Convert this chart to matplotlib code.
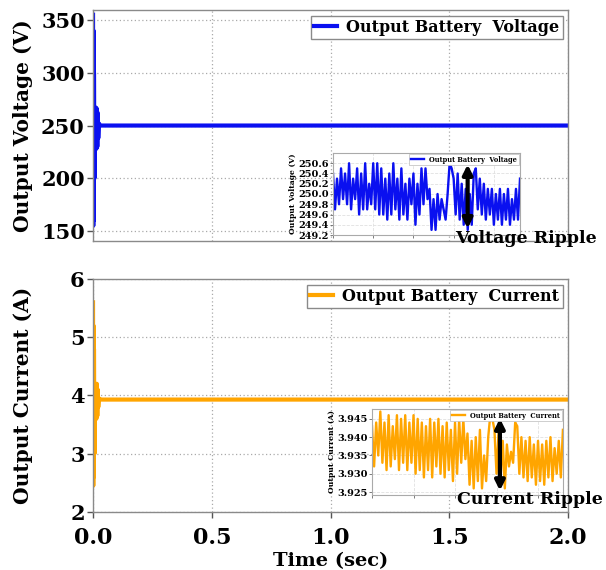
import matplotlib
matplotlib.use("Agg")
import matplotlib.pyplot as plt

plt.rcParams['font.family'] = ['DejaVu Serif']
plt.rcParams['font.weight'] = 'bold'

# ---- main traces ----
t_main = [0.0, 0.001, 0.002, 0.003, 0.004, 0.006, 0.008, 0.010, 0.012, 0.014,
          0.016, 0.018, 0.020, 0.022, 0.025, 0.030, 2.0]
v_main = [355, 155, 340, 160, 300, 200, 267, 230, 267, 228,
          266, 230, 262, 238, 252, 250, 250]
i_main = [5.6, 2.45, 5.2, 2.6, 4.8, 3.0, 4.2, 3.6, 4.2, 3.6,
          4.2, 3.65, 4.1, 3.8, 3.95, 3.93, 3.93]

# ---- zoomed ripple (inset) ----
v_ripple = [250.4, 249.7, 250.3, 249.8, 250.5, 249.9, 250.4, 249.8, 250.6, 249.7,
            250.3, 249.9, 250.5, 249.6, 250.4, 249.7, 250.6, 249.7, 250.2, 249.8,
            250.6, 249.7, 250.6, 249.6,
            250.5, 249.6, 250.3, 249.5, 250.4, 249.6, 250.6, 249.7, 250.3, 249.5,
            250.5, 249.6, 250.2, 249.5, 250.3, 249.8, 250.4, 249.4, 250.2, 249.6,
            250.5, 249.8,
            250.5, 249.9, 250.1, 249.3, 249.9, 249.3, 250.0, 249.5, 249.9, 249.7,
            249.5, 250.0, 250.6,
            250.5, 250.3, 249.6, 250.4, 249.5, 250.2, 249.4, 250.1, 249.3, 250.0,
            249.4, 250.4,
            250.5, 249.7, 250.3, 249.6, 250.2, 249.5, 250.1, 249.6, 250.1, 249.4,
            250.0, 249.5, 250.1, 249.4, 250.0, 249.5, 250.1, 249.4, 249.9, 249.5,
            250.1, 249.5, 250.3]
i_ripple = [3.943, 3.932, 3.944, 3.935, 3.947, 3.933, 3.944, 3.931, 3.946, 3.932,
            3.943, 3.934, 3.946, 3.931, 3.945, 3.933, 3.946, 3.931, 3.944, 3.933,
            3.946, 3.930, 3.945, 3.931,
            3.944, 3.929, 3.943, 3.931, 3.945, 3.929, 3.944, 3.932, 3.945, 3.930,
            3.943, 3.929, 3.944, 3.931, 3.942, 3.928, 3.944, 3.930, 3.945, 3.933,
            3.945, 3.934, 3.941, 3.927, 3.939, 3.926, 3.940, 3.928, 3.942, 3.926,
            3.935, 3.928, 3.940, 3.946,
            3.945, 3.942, 3.930, 3.941, 3.929, 3.939, 3.926, 3.938, 3.932, 3.936,
            3.933, 3.944,
            3.943, 3.930, 3.940, 3.929, 3.939, 3.928, 3.940, 3.929, 3.938, 3.927,
            3.939, 3.928, 3.938, 3.927, 3.939, 3.929, 3.940, 3.928, 3.937, 3.930,
            3.939, 3.929, 3.942]

x_ticks = [0.0, 0.5, 1.0, 1.5, 2.0]
v_ticks = [150, 200, 250, 300, 350]
i_ticks = [2, 3, 4, 5, 6]
v_inset_ticks = [249.2, 249.4, 249.6, 249.8, 250.0, 250.2, 250.4, 250.6]
i_inset_ticks = [3.925, 3.930, 3.935, 3.940, 3.945]

BLUE = '#0a10f0'
ORANGE = '#ffa500'
SPINE = '#8a8a8a'

fig = plt.figure(figsize=(6.06, 5.70), dpi=100)
ax1 = fig.add_axes([0.1535, 0.577, 0.784, 0.4055])
ax2 = fig.add_axes([0.1535, 0.1018, 0.784, 0.4087])


def style_main(ax):
    for s in ax.spines.values():
        s.set_color(SPINE)
        s.set_linewidth(1.0)
    ax.grid(True, linestyle=(0, (1, 2)), color='#aaaaaa', linewidth=0.9)
    ax.tick_params(direction='out', length=4, width=1, color='#555555',
                   labelsize=15, pad=2)
    for lab in ax.get_xticklabels() + ax.get_yticklabels():
        lab.set_fontweight('bold')
    ax.yaxis.set_label_coords(-0.126, 0.5)


ax1.plot(t_main, v_main, color=BLUE, lw=3.0, label='Output Battery  Voltage')
ax1.set_xlim(0, 2)
ax1.set_ylim(140.5, 359.5)
ax1.set_xticks(x_ticks)
ax1.set_xticklabels([])
ax1.set_yticks(v_ticks)
ax1.set_ylabel('Output Voltage (V)', fontsize=14.5, fontweight='bold')
style_main(ax1)
ax1.tick_params(axis='x', length=0)
leg1 = ax1.legend(loc='upper right', fontsize=11.5, handlelength=1.4,
                  handletextpad=0.6, borderpad=0.2, borderaxespad=0.35,
                  fancybox=False, framealpha=1)
leg1.get_frame().set_edgecolor(SPINE)

ax2.plot(t_main, i_main, color=ORANGE, lw=3.0, label='Output Battery  Current')
ax2.set_xlim(0, 2)
ax2.set_ylim(2, 6)
ax2.set_xticks(x_ticks)
ax2.set_xticklabels([f'{x:.1f}' for x in x_ticks])
ax2.set_yticks(i_ticks)
ax2.set_ylabel('Output Current (A)', fontsize=14.5, fontweight='bold')
ax2.set_xlabel('Time (sec)', fontsize=14, fontweight='bold', labelpad=2)
style_main(ax2)
ax2.tick_params(axis='x', labelsize=16, pad=7)
leg2 = ax2.legend(loc='upper right', fontsize=11.5, handlelength=1.4,
                  handletextpad=0.6, borderpad=0.2, borderaxespad=0.35,
                  fancybox=False, framealpha=1)
leg2.get_frame().set_edgecolor(SPINE)


def style_inset(ax):
    for s in ax.spines.values():
        s.set_color('#aaaaaa')
        s.set_linewidth(0.8)
    ax.grid(True, linestyle='--', color='#e0e0e0', linewidth=0.6)
    ax.tick_params(direction='out', length=2, width=0.6, color='#666666',
                   labelsize=7, pad=1)
    ax.set_xticklabels([])
    for lab in ax.get_yticklabels():
        lab.set_fontweight('bold')


ins1 = fig.add_axes([0.5495, 0.5877, 0.3086, 0.1439])
n1 = list(range(len(v_ripple)))
ins1.plot(n1, v_ripple, color=BLUE, lw=1.7, label='Output Battery  Voltage')
ins1.set_xlim(0, len(v_ripple) - 1)
ins1.set_ylim(249.2, 250.8)
ins1.set_yticks(v_inset_ticks)
ins1.set_yticklabels([f'{v:.1f}' for v in v_inset_ticks])
ins1.set_ylabel('Output Voltage (V)', fontsize=5.5, fontweight='bold', labelpad=1)
style_inset(ins1)
l3 = ins1.legend(loc='upper right', fontsize=4.8, handlelength=2.0,
                 borderpad=0.2, borderaxespad=0.2, fancybox=False, framealpha=1)
l3.get_frame().set_edgecolor('#bbbbbb')
l3.get_frame().set_linewidth(0.5)

ins2 = fig.add_axes([0.6139, 0.1316, 0.315, 0.1509])
n2 = list(range(len(i_ripple)))
ins2.plot(n2, i_ripple, color=ORANGE, lw=1.7, label='Output Battery  Current')
ins2.set_xlim(0, len(i_ripple) - 1)
ins2.set_ylim(3.9242, 3.9477)
ins2.set_yticks(i_inset_ticks)
ins2.set_yticklabels([f'{v:.3f}' for v in i_inset_ticks])
ins2.set_ylabel('Output Current (A)', fontsize=5.5, fontweight='bold', labelpad=1)
style_inset(ins2)
l4 = ins2.legend(loc='upper right', fontsize=4.8, handlelength=2.0,
                 borderpad=0.2, borderaxespad=0.2, fancybox=False, framealpha=1)
l4.get_frame().set_edgecolor('#bbbbbb')
l4.get_frame().set_linewidth(0.5)

# ripple arrows
arrow_kw = dict(arrowstyle='<|-|>', color='black', lw=3.0, mutation_scale=14,
                shrinkA=0, shrinkB=0)
ins1.annotate('', xy=(0.72, 0.08), xytext=(0.72, 0.86),
              xycoords='axes fraction', textcoords='axes fraction',
              arrowprops=arrow_kw, annotation_clip=False)
ins2.annotate('', xy=(0.67, 0.05), xytext=(0.67, 0.89),
              xycoords='axes fraction', textcoords='axes fraction',
              arrowprops=arrow_kw, annotation_clip=False)

fig.text(0.985, 0.581, 'Voltage Ripple', fontsize=12.5, fontweight='bold',
         ha='right', va='center')
fig.text(0.995, 0.124, 'Current Ripple', fontsize=12.5, fontweight='bold',
         ha='right', va='center')

fig.savefig('out.png', dpi=100)
